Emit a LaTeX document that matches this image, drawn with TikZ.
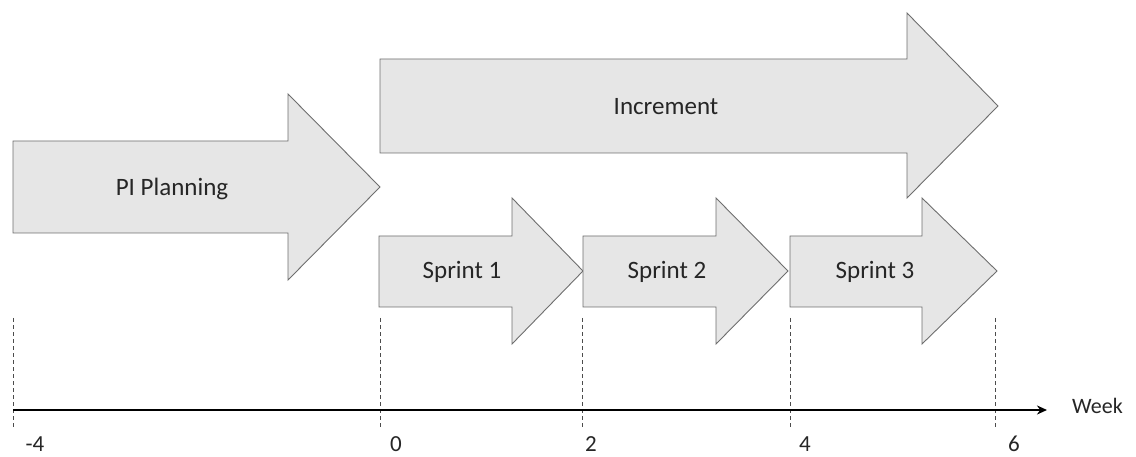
\documentclass[tikz,border=0pt]{standalone}
\usepackage{fontspec}
\setmainfont{Carlito}
\usetikzlibrary{arrows.meta}
\definecolor{arrfill}{HTML}{E6E6E6}
\definecolor{arrdraw}{HTML}{6E6E6E}
\tikzset{
  bigarrow/.style={fill=arrfill, draw=arrdraw, line width=0.9pt, line join=miter},
  lbl/.style={font=\fontsize{25}{30}\selectfont, text=black!85, inner sep=0pt},
  ticklbl/.style={font=\fontsize{23}{27}\selectfont, text=black!85, inner sep=0pt},
  weeklbl/.style={font=\fontsize{22}{26}\selectfont, text=black!85, inner sep=0pt},
  guide/.style={draw=black!70, line width=0.6pt, dash pattern=on 4pt off 3pt},
  axisline/.style={draw=black, line width=2.2pt, -{Stealth[length=10pt,width=9pt]}}
}
% \myarrow{left}{shafttop}{shaftbottom}{headx}{headtop}{headbottom}{tipx}{tipy}
\newcommand{\myarrow}[8]{%
  \path[bigarrow] (#1,#2) -- (#4,#2) -- (#4,#5) -- (#7,#8) -- (#4,#6) -- (#4,#3) -- (#1,#3) -- cycle;}
\begin{document}
\begin{tikzpicture}[x=1pt,y=-1pt]
\useasboundingbox (0,0) rectangle (1136,457);
% arrows
\myarrow{13}{141}{233}{288}{94}{280}{380}{187}
\myarrow{380}{59}{153}{907}{13}{198}{998}{106}
\myarrow{379}{236}{307}{512}{198}{344}{583}{271}
\myarrow{583}{236}{307}{716}{198}{344}{788}{271}
\myarrow{790}{236}{307}{922}{198}{344}{997}{271}
\node[lbl] (pi) at (172,189) {PI Planning};
\node[lbl] (inc) at (666,107) {Increment};
\node[lbl] (s1) at (462,272) {Sprint 1};
\node[lbl] (s2) at (667,272) {Sprint 2};
\node[lbl] (s3) at (875,272) {Sprint 3};
% guides
\coordinate (g1t) at (13,318);   \coordinate (g1b) at (13,428);
\coordinate (g2t) at (380,318);  \coordinate (g2b) at (380,428);
\coordinate (g3t) at (582,318);  \coordinate (g3b) at (582,428);
\coordinate (g4t) at (790,318);  \coordinate (g4b) at (790,428);
\coordinate (g5t) at (995,318);  \coordinate (g5b) at (995,428);
\draw[guide] (g1t) -- (g1b);
\draw[guide] (g2t) -- (g2b);
\draw[guide] (g3t) -- (g3b);
\draw[guide] (g4t) -- (g4b);
\draw[guide] (g5t) -- (g5b);
% axis
\coordinate (ax0) at (13,410);
\coordinate (ax1) at (1047,410);
\draw[axisline] (ax0) -- (ax1);
\node[weeklbl, anchor=west] (week) at (1072,406) {Week};
\node[ticklbl] (tm4) at (35,444) {-4};
\node[ticklbl] (t0) at (396,444) {0};
\node[ticklbl] (t2) at (591,444) {2};
\node[ticklbl] (t4) at (805,444) {4};
\node[ticklbl] (t6) at (1014,444) {6};
\end{tikzpicture}
\end{document}
